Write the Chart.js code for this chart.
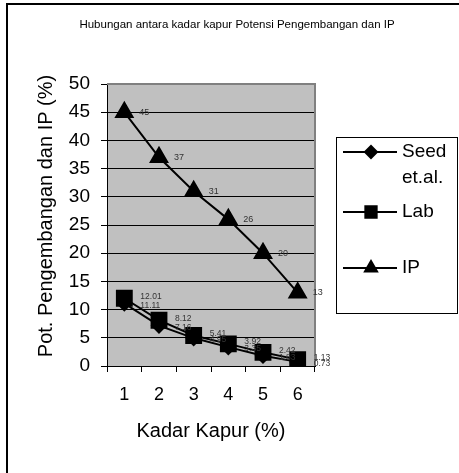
<!DOCTYPE html>
<html>
<head>
<meta charset="utf-8">
<script src="https://cdn.jsdelivr.net/npm/chart.js@4/dist/chart.umd.min.js"></script>
<style>
  html, body { margin: 0; padding: 0; background: #fff; }
  #wrap { width: 459px; height: 473px; position: relative; }
</style>
</head>
<body>
<div id="wrap"><canvas id="c" width="459" height="473"></canvas></div>
<script>
const chartTitle = "Hubungan antara kadar kapur Potensi Pengembangan dan IP";
const yAxisTitle = "Pot. Pengembangan dan IP (%)";
const xAxisTitle = "Kadar Kapur (%)";
const categories = ["1", "2", "3", "4", "5", "6"];
const seedValues = [11.11, 7.16, 4.95, 3.35, 1.83, 0.73];
const labValues = [12.01, 8.12, 5.41, 3.92, 2.42, 1.13];
const ipValues = [45, 37, 31, 26, 20, 13];
const yTicks = [0, 5, 10, 15, 20, 25, 30, 35, 40, 45, 50];
const seriesNames = [["Seed", "et.al."], ["Lab"], ["IP"]];

const FONT = "'Liberation Sans', Arial, sans-serif";

const decor = {
  id: 'decor',
  beforeDraw(chart) {
    const ctx = chart.ctx, a = chart.chartArea;
    ctx.save();
    ctx.fillStyle = '#fff';
    ctx.fillRect(0, 0, chart.width, chart.height);
    ctx.fillStyle = '#c0c0c0';
    ctx.fillRect(a.left, a.top, a.right - a.left, a.bottom - a.top);
    // outer frame (left and top visible)
    ctx.strokeStyle = '#000';
    ctx.lineWidth = 2;
    ctx.beginPath();
    ctx.moveTo(7, chart.height);
    ctx.lineTo(7, 4);
    ctx.lineTo(chart.width, 4);
    ctx.stroke();
    // title
    ctx.fillStyle = '#000';
    ctx.font = "11.5px " + FONT;
    ctx.textAlign = 'center';
    ctx.textBaseline = 'middle';
    ctx.fillText(chartTitle, 237, 25);
    // y axis title
    ctx.save();
    ctx.translate(46, 216);
    ctx.rotate(-Math.PI / 2);
    ctx.font = "20px " + FONT;
    ctx.fillText(yAxisTitle, 0, 0);
    ctx.restore();
    ctx.restore();
  },
  afterDraw(chart) {
    const ctx = chart.ctx, a = chart.chartArea;
    ctx.save();
    // gray top and right border of plot area
    ctx.strokeStyle = '#808080';
    ctx.lineWidth = 2;
    ctx.beginPath();
    ctx.moveTo(a.left, a.top);
    ctx.lineTo(a.right, a.top);
    ctx.lineTo(a.right, a.bottom);
    ctx.stroke();
    // data labels
    ctx.fillStyle = '#333';
    ctx.textAlign = 'left';
    ctx.textBaseline = 'middle';
    const offs = [2, -2, 0];
    chart.data.datasets.forEach((ds, i) => {
      const meta = chart.getDatasetMeta(i);
      ctx.font = (i === 2 ? "9px " : "8.5px ") + FONT;
      meta.data.forEach((pt, j) => {
        const v = ds.data[j];
        const txt = (i === 2) ? String(v) : v.toFixed(2);
        ctx.fillText(txt, pt.x + (i === 2 ? 15 : 16), pt.y + offs[i]);
      });
    });
    // legend box
    ctx.strokeStyle = '#000';
    ctx.lineWidth = 1;
    ctx.strokeRect(336.5, 137.5, 121, 176);
    const rows = [152, 212, 268];
    chart.data.datasets.forEach((ds, i) => {
      const y = rows[i];
      ctx.strokeStyle = '#000';
      ctx.lineWidth = 2;
      ctx.beginPath();
      ctx.moveTo(343, y);
      ctx.lineTo(397, y);
      ctx.stroke();
      Chart.helpers.drawPoint(ctx, {
        pointStyle: ds.pointStyle, radius: ds.legendRadius, borderWidth: 1
      }, 371, y);
      ctx.fillStyle = '#000';
      ctx.fill();
      ctx.font = "19px " + FONT;
      ctx.textAlign = 'left';
      ctx.textBaseline = 'middle';
      seriesNames[i].forEach((line, k) => {
        ctx.fillText(line, 402, y + k * 26);
      });
    });
    ctx.restore();
  }
};

new Chart(document.getElementById('c'), {
  type: 'line',
  data: {
    labels: categories,
    datasets: [
      { label: seriesNames[0].join(' '), data: seedValues, borderColor: '#000', backgroundColor: '#000',
        borderWidth: 2, pointStyle: 'rectRot', pointRadius: 7, legendRadius: 6, tension: 0 },
      { label: seriesNames[1].join(' '), data: labValues, borderColor: '#000', backgroundColor: '#000',
        borderWidth: 2, pointStyle: 'rect', pointRadius: 10.5, legendRadius: 8, tension: 0 },
      { label: seriesNames[2].join(' '), data: ipValues, borderColor: '#000', backgroundColor: '#000',
        borderWidth: 2, pointStyle: 'triangle', pointRadius: 9.5, legendRadius: 7, tension: 0 }
    ]
  },
  options: {
    responsive: false,
    animation: false,
    devicePixelRatio: 1,
    layout: { padding: { left: 28, right: 144, top: 84, bottom: 26 } },
    plugins: {
      legend: { display: false },
      title: { display: false },
      tooltip: { enabled: false }
    },
    scales: {
      x: {
        type: 'category',
        offset: true,
        afterFit(s) { s.height = 473 - 366 - 26; },
        grid: { offset: true, drawOnChartArea: false, drawTicks: true, tickLength: 6, color: '#000' },
        border: { color: '#000', width: 1 },
        ticks: { color: '#000', font: { family: FONT, size: 18 }, padding: 12, maxRotation: 0 },
        title: { display: true, text: xAxisTitle, color: '#000', font: { family: FONT, size: 20 }, padding: { top: 0, bottom: 4 } }
      },
      y: {
        min: 0, max: 50,
        afterFit(s) { s.width = 107 - 28; },
        afterBuildTicks(s) { s.ticks = yTicks.map(v => ({ value: v })); },
        grid: { color: '#000', lineWidth: 1, tickLength: 6, drawTicks: true },
        border: { color: '#000', width: 1 },
        ticks: { color: '#000', font: { family: FONT, size: 19 }, padding: 11 },
        title: { display: false }
      }
    }
  },
  plugins: [decor]
});
</script>
</body>
</html>
